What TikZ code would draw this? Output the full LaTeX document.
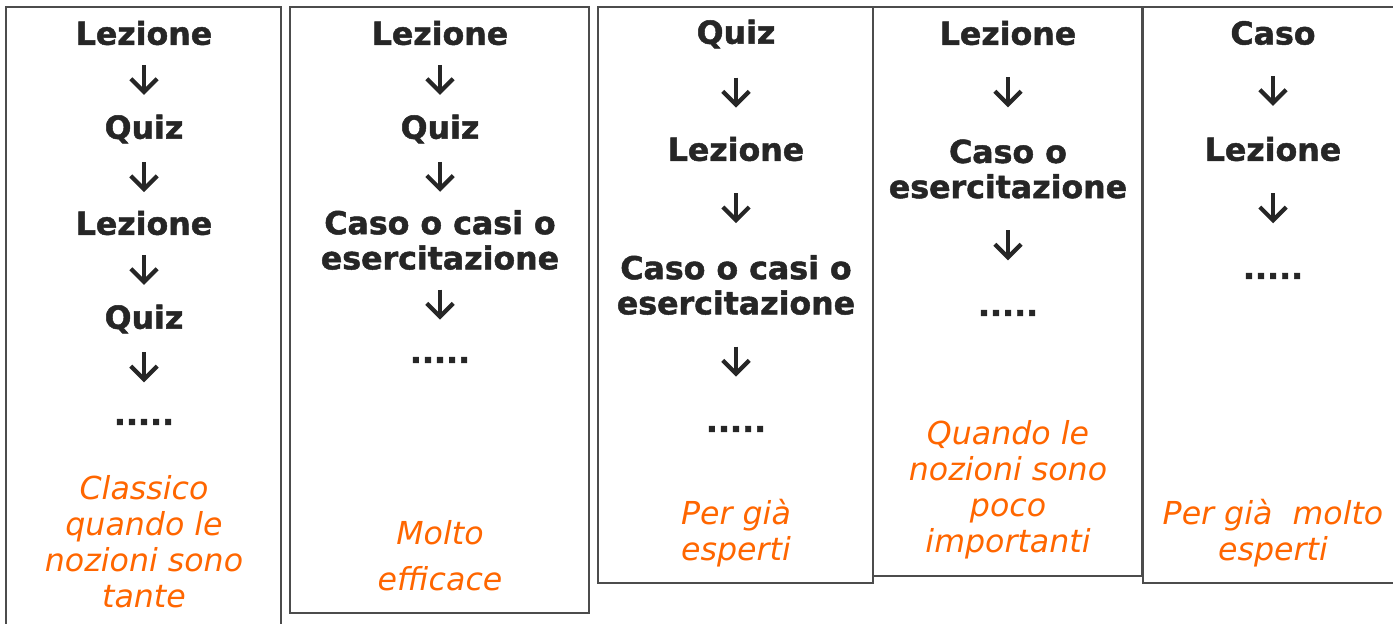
\documentclass[tikz,border=0pt]{standalone}
\usepackage{fontspec}
\setmainfont{DejaVu Sans}[BoldFeatures={FakeBold=1.5}]
\usetikzlibrary{arrows.meta,calc}

\definecolor{testo}{RGB}{38,38,38}
\definecolor{arancio}{RGB}{255,102,0}

\tikzset{
  colonna/.style={draw=black!70, line width=0.8pt},
  fase/.style={text=testo, font=\fontsize{18}{20}\selectfont\bfseries, align=center, inner sep=1pt},
  puntini/.style={fase, anchor=base, text height=13.5pt},
  nota/.style={text=arancio, font=\fontsize{18}{20.5}\selectfont\itshape, align=center, inner sep=1pt},
  freccia/.style={draw=testo, line width=2.4pt, -{Straight Barb[length=7.5pt,width=15pt]},
    to path={($(\tikztostart.south)!.5!(\tikztotarget.north)+(0,-15)$) -- ++(0,30)}}
}

\begin{document}
\begin{tikzpicture}[x=0.02cm, y=-0.02cm]
        \useasboundingbox (0,0) rectangle (1393,624);
        % colonne
        \draw[colonna] (6,640) -- (6,7) -- (281,7) -- (281,640);
        \draw[colonna] (290,7) rectangle (589,613);
        \draw[colonna] (598,7) rectangle (873,583);
        \draw[colonna] (873,7) rectangle (1142,576);
        \draw[colonna] (1410,7) -- (1143,7) -- (1143,583) -- (1410,583);

        % colonna 1
        \node[fase] (lez1a) at (144,33) {Lezione};
        \node[fase] (quiz1a) at (144,129) {Quiz};
        \node[fase] (lez1b) at (144,223) {Lezione};
        \node[fase] (quiz1b) at (144,319) {Quiz};
        \node[puntini] (dots1) at (144,425) {.....};
        \node[nota] (nota1) at (144,542) {Classico\\quando le\\nozioni sono\\tante};
        \draw[freccia] (lez1a) to (quiz1a);
        \draw[freccia] (quiz1a) to (lez1b);
        \draw[freccia] (lez1b) to (quiz1b);
        \draw[freccia] (quiz1b) to (dots1);

        % colonna 2
        \node[fase] (lez2) at (440,33) {Lezione};
        \node[fase] (quiz2) at (440,129) {Quiz};
        \node[fase] (caso2) at (440,240) {Caso o casi o\\esercitazione};
        \node[puntini] (dots2) at (440,363) {.....};
        \node[nota] (nota2) at (440,556) {Molto\\[5.5pt]efficace};
        \draw[freccia] (lez2) to (quiz2);
        \draw[freccia] (quiz2) to (caso2);
        \draw[freccia] (caso2) to (dots2);

        % colonna 3
        \node[fase] (quiz3) at (736,34) {Quiz};
        \node[fase] (lez3) at (736,149) {Lezione};
        \node[fase] (caso3) at (736,285) {Caso o casi o\\esercitazione};
        \node[puntini] (dots3) at (736,432) {.....};
        \node[nota] (nota3) at (736,533) {Per già\\esperti};
        \draw[freccia] (quiz3) to (lez3);
        \draw[freccia] (lez3) to (caso3);
        \draw[freccia] (caso3) to (dots3);

        % colonna 4
        \node[fase] (lez4) at (1008,33) {Lezione};
        \node[fase] (caso4) at (1008,169) {Caso o\\esercitazione};
        \node[puntini] (dots4) at (1008,316) {.....};
        \node[nota] (nota4) at (1008,490) {Quando le\\nozioni sono\\poco\\importanti};
        \draw[freccia] (lez4) to (caso4);
        \draw[freccia] (caso4) to (dots4);

        % colonna 5
        \node[fase] (caso5) at (1273,33) {Caso};
        \node[fase] (lez5) at (1273,149) {Lezione};
        \node[puntini] (dots5) at (1273,279) {.....};
        \node[nota] (nota5) at (1273,533) {Per già\ \ molto\\esperti};
        \draw[freccia] (caso5) to (lez5);
        \draw[freccia] (lez5) to (dots5);
    \end{tikzpicture}
\end{document}
